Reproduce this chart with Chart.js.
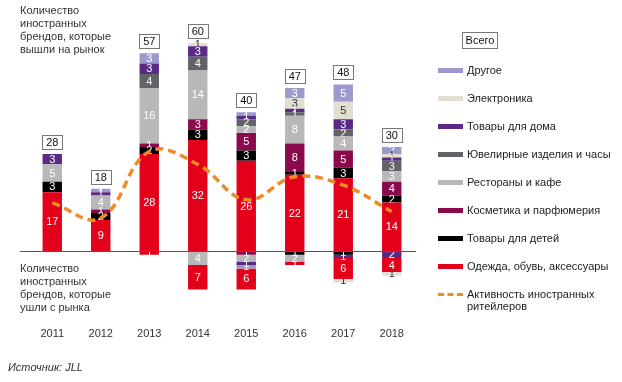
<!DOCTYPE html>
<html lang="ru">
<head>
<meta charset="UTF-8">
<script src="https://cdn.jsdelivr.net/npm/chart.js@4.4.1/dist/chart.umd.min.js"></script>
<style>
    body {
        margin: 0;
        width: 622px;
        height: 382px;
        background: #fff;
        position: relative;
        overflow: hidden;
        font-family: "Liberation Sans", Arial, sans-serif;
    }
    #grafico {
        position: absolute;
        left: 0;
        top: 0;
    }
    .nota {
        position: absolute;
        left: 20px;
        font-size: 11px;
        line-height: 13px;
        color: #333;
    }
    #fonte {
        position: absolute;
        left: 8px;
        top: 361px;
        font-size: 11px;
        font-style: italic;
        color: #333;
    }
    #caixa-total {
        position: absolute;
        left: 462px;
        top: 32px;
        width: 34px;
        height: 15px;
        border: 1px solid #777;
        font-size: 11px;
        line-height: 15px;
        text-align: center;
        color: #111;
    }
    .item-legenda {
        position: absolute;
        left: 438px;
        font-size: 11px;
        line-height: 12px;
        color: #222;
        white-space: nowrap;
    }
    .amostra {
        position: absolute;
        left: 0;
        top: 4px;
        width: 25px;
        height: 5px;
    }
    .texto-legenda {
        position: absolute;
        left: 29px;
        top: 0;
    }
</style>
</head>
<body>
<canvas id="grafico" width="622" height="382"></canvas>
<div class="nota" style="top:4px">Количество<br>иностранных<br>брендов, которые<br>вышли на рынок</div>
<div class="nota" style="top:262px">Количество<br>иностранных<br>брендов, которые<br>ушли с рынка</div>
<div id="fonte">Источник: JLL</div>
<div id="caixa-total">Всего</div>
<div id="legenda"></div>

<script>
const anos = ["2011", "2012", "2013", "2014", "2015", "2016", "2017", "2018"];

// brendy, kotorye vyshli na rynok
const odezhda     = [17, 9, 28, 32, 26, 22, 21, 14];
const detskie     = [3, 2, 2, 3, 3, 1, 3, 2];
const kosmetika   = [0, 1, 1, 3, 5, 8, 5, 4];
const restorany   = [5, 4, 16, 14, 2, 8, 4, 3];
const yuvelirnye  = [0, 0, 4, 4, 2, 1, 2, 3];
const dlyaDoma    = [3, 1, 3, 3, 1, 1, 3, 1];
const elektronika = [0, 0, 0, 1, 0, 3, 5, 1];
const drugoe      = [0, 1, 3, 0, 1, 3, 5, 2];

// brendy, kotorye ushli s rynka
const detskieUshli     = [0, 0, 0, 0, 0, 1, 1, 0];
const kosmetikaUshli   = [0, 0, 0, 0, 1, 0, 0, 0];
const restoranyUshli   = [0, 0, 0, 4, 2, 2, 0, 0];
const dlyaDomaUshli    = [0, 0, 0, 0, 1, 0, 1, 2];
const drugoeUshli      = [0, 0, 0, 0, 1, 0, 0, 0];
const odezhdaUshli     = [0, 0, 1, 7, 6, 1, 6, 4];
const elektronikaUshli = [0, 0, 0, 0, 0, 0, 1, 1];

const vsego = [28, 18, 57, 60, 40, 47, 48, 30];
const aktivnost = [13.9, 9.5, 28.7, 25, 14.8, 21.4, 19, 11.4];

const FONTE = "'Liberation Sans', Arial, sans-serif";

const cores = {
    odezhda: "#e2001a",
    detskie: "#000000",
    kosmetika: "#8b0a4c",
    restorany: "#b8b8b8",
    yuvelirnye: "#626366",
    dlyaDoma: "#5b2a86",
    elektronika: "#e2ded1",
    drugoe: "#9c9acd",
    linha: "#f08a24"
};

function negativo(arr) {
    return arr.map(v => v === 0 ? 0 : -v);
}

function barra(label, data, cor, legenda) {
    return {
        type: "bar",
        label: label,
        data: data,
        backgroundColor: cor,
        borderWidth: 0,
        barPercentage: 0.4,
        categoryPercentage: 1,
        order: 1,
        naLegenda: legenda
    };
}

const datasets = [
    barra("Одежда, обувь, аксессуары", odezhda, cores.odezhda, true),
    barra("Товары для детей", detskie, cores.detskie, true),
    barra("Косметика и парфюмерия", kosmetika, cores.kosmetika, true),
    barra("Рестораны и кафе", restorany, cores.restorany, true),
    barra("Ювелирные изделия и часы", yuvelirnye, cores.yuvelirnye, true),
    barra("Товары для дома", dlyaDoma, cores.dlyaDoma, true),
    barra("Электроника", elektronika, cores.elektronika, true),
    barra("Другое", drugoe, cores.drugoe, true),
    barra("Товары для детей (ушли)", negativo(detskieUshli), cores.detskie, false),
    barra("Косметика и парфюмерия (ушли)", negativo(kosmetikaUshli), cores.kosmetika, false),
    barra("Рестораны и кафе (ушли)", negativo(restoranyUshli), cores.restorany, false),
    barra("Товары для дома (ушли)", negativo(dlyaDomaUshli), cores.dlyaDoma, false),
    barra("Другое (ушли)", negativo(drugoeUshli), cores.drugoe, false),
    barra("Одежда, обувь, аксессуары (ушли)", negativo(odezhdaUshli), cores.odezhda, false),
    barra("Электроника (ушли)", negativo(elektronikaUshli), cores.elektronika, false),
    {
        type: "line",
        label: "Активность иностранных ритейлеров",
        data: aktivnost,
        stack: "linha",
        borderColor: cores.linha,
        borderWidth: 3.5,
        borderDash: [8, 5],
        pointRadius: 0,
        tension: 0.4,
        fill: false,
        order: 0,
        naLegenda: true
    }
];

// rotulos dentro das barras
const rotulosPlugin = {
    id: "rotulos",
    afterDatasetDraw(chart, args) {
        const meta = args.meta;
        if (meta.type !== "bar") return;
        const ds = chart.data.datasets[args.index];
        const ctx = chart.ctx;
        ctx.save();
        ctx.font = "11px " + FONTE;
        ctx.textAlign = "center";
        ctx.textBaseline = "middle";
        ctx.fillStyle = ds.backgroundColor === cores.elektronika ? "#333" : "#fff";
        meta.data.forEach((el, i) => {
            const v = ds.data[i];
            if (!v) return;
            ctx.fillText(String(Math.abs(v)), el.x, (el.y + el.base) / 2 + 0.5);
        });
        ctx.restore();
    },
    afterDatasetsDraw(chart) {
        const ctx = chart.ctx;
        const x = chart.scales.x;
        const y = chart.scales.y;
        const zero = Math.round(y.getPixelForValue(0)) + 0.5;

        ctx.save();
        ctx.strokeStyle = "#555";
        ctx.lineWidth = 1;
        ctx.beginPath();
        ctx.moveTo(chart.chartArea.left - 8, zero);
        ctx.lineTo(chart.chartArea.right, zero);
        ctx.stroke();

        ctx.font = "11px " + FONTE;
        ctx.textAlign = "center";
        ctx.textBaseline = "middle";
        vsego.forEach((total, i) => {
            const cx = x.getPixelForValue(i);
            const topo = y.getPixelForValue(total);
            const w = 20, h = 14;
            const bx = Math.round(cx - w / 2) + 0.5;
            const by = Math.round(topo - 5 - h) + 0.5;
            ctx.fillStyle = "#fff";
            ctx.fillRect(bx, by, w, h);
            ctx.strokeStyle = "#777";
            ctx.strokeRect(bx, by, w, h);
            ctx.fillStyle = "#111";
            ctx.fillText(String(total), cx, by + h / 2 + 0.5);
        });
        ctx.restore();
    }
};

function montarLegenda(chart) {
    const legenda = document.getElementById("legenda");
    legenda.innerHTML = "";
    const itens = chart.data.datasets.filter(ds => ds.naLegenda);
    const barras = itens.filter(ds => ds.type === "bar").reverse();
    const linhas = itens.filter(ds => ds.type === "line");
    barras.concat(linhas).forEach((ds, i) => {
        const item = document.createElement("div");
        item.className = "item-legenda";
        item.style.top = (64 + i * 28) + "px";
        const amostra = document.createElement("div");
        amostra.className = "amostra";
        if (ds.type === "line") {
            amostra.style.height = "0";
            amostra.style.top = "5px";
            amostra.style.borderTop = "3px dashed " + ds.borderColor;
        } else {
            amostra.style.background = ds.backgroundColor;
        }
        const texto = document.createElement("div");
        texto.className = "texto-legenda";
        texto.innerHTML = ds.type === "line" ? "Активность иностранных<br>ритейлеров" : ds.label;
        item.appendChild(amostra);
        item.appendChild(texto);
        legenda.appendChild(item);
    });
}

const ctx = document.getElementById("grafico").getContext("2d");
const grafico = new Chart(ctx, {
    data: {
        labels: anos,
        datasets: datasets
    },
    options: {
        responsive: false,
        animation: false,
        layout: {
            padding: { left: 28, right: 206, top: 15, bottom: 21 }
        },
        plugins: {
            legend: { display: false },
            tooltip: { enabled: false }
        },
        scales: {
            x: {
                stacked: true,
                grid: { display: false },
                border: { display: false },
                ticks: {
                    padding: 20,
                    color: "#333",
                    font: { size: 11, family: FONTE }
                }
            },
            y: {
                stacked: true,
                display: false,
                min: -14,
                max: 68
            }
        }
    },
    plugins: [rotulosPlugin]
});

montarLegenda(grafico);
</script>
</body>
</html>
